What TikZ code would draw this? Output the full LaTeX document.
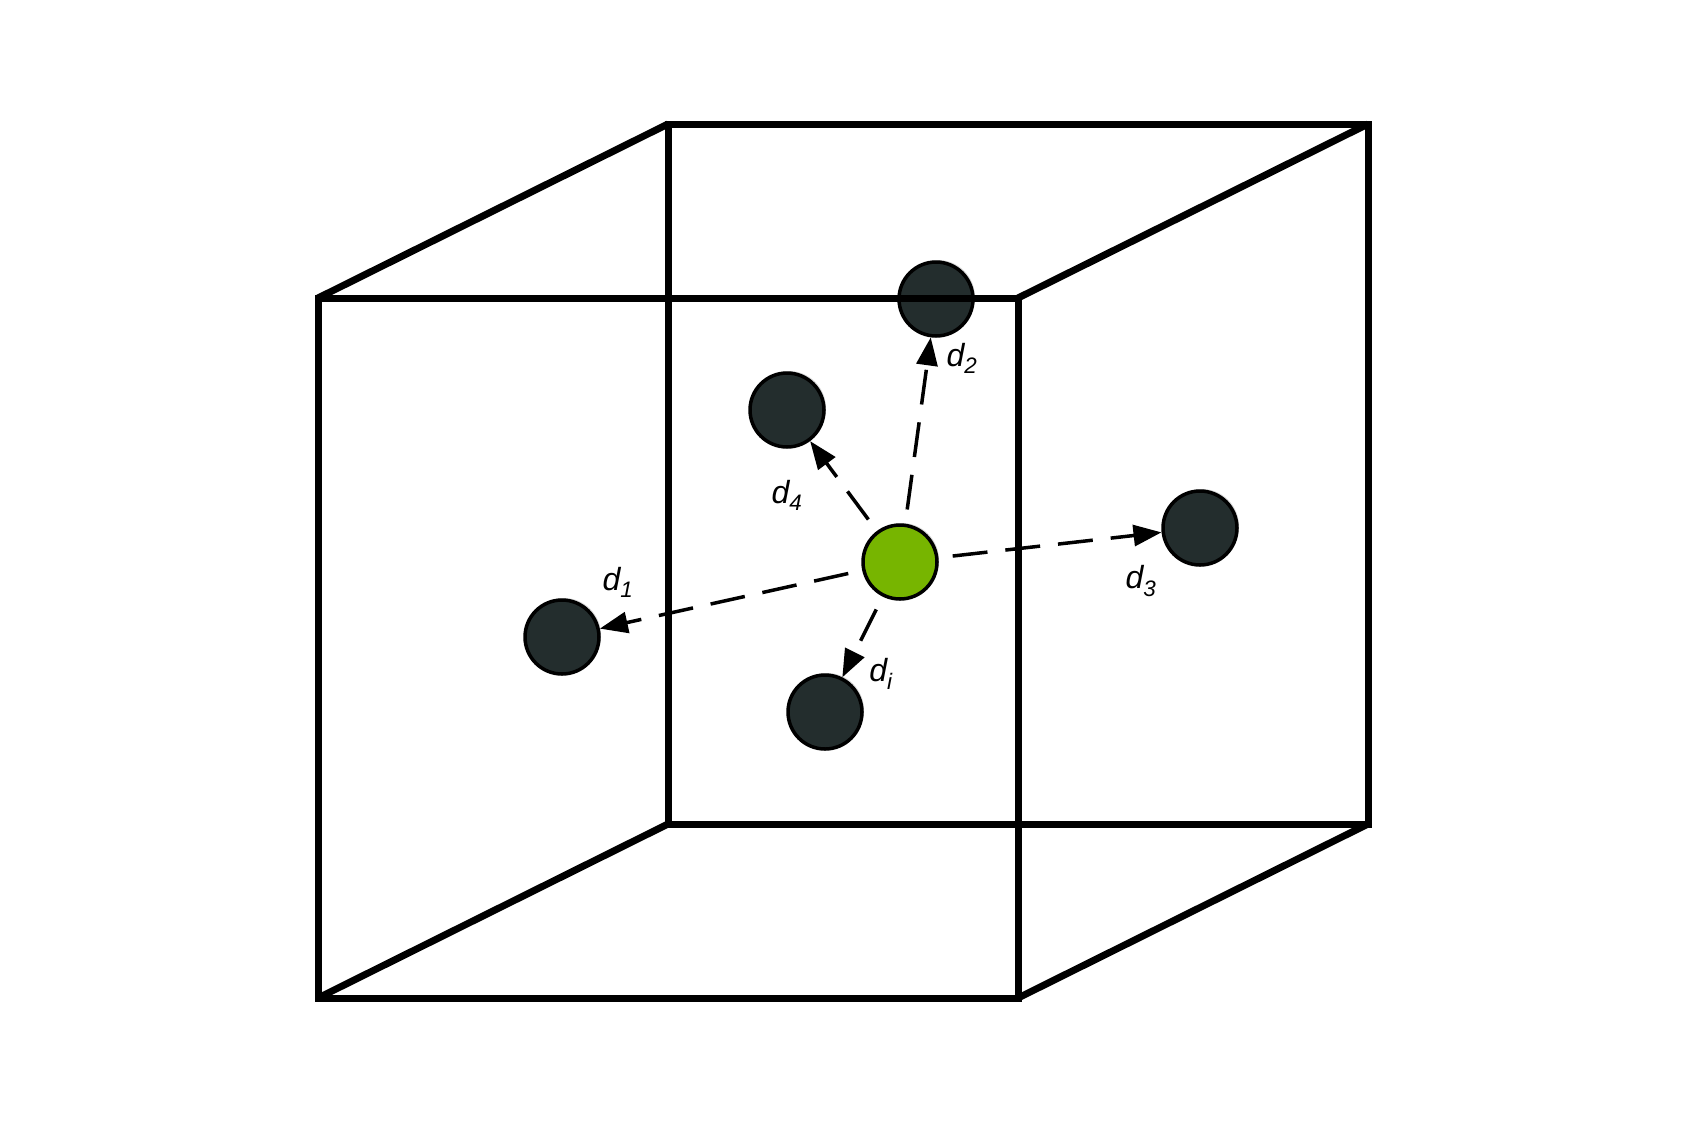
\documentclass[tikz,border=0pt]{standalone}
\usepackage{fontspec}
\newfontfamily\labfont{Liberation Sans}
\usetikzlibrary{arrows.meta,shadows,backgrounds}
\definecolor{atomdark}{HTML}{232D2D}
\definecolor{atomgreen}{HTML}{77B500}
\newcommand{\dsub}[1]{\textit{d\textsubscript{#1}}}
\begin{document}
\begin{tikzpicture}[x=1pt,y=-1pt,
  atom/.style={circle,draw=black,line width=3.5pt,inner sep=0pt,minimum size=74pt,
    fill=atomdark,drop shadow={shadow xshift=2pt,shadow yshift=2pt,opacity=0.3,fill=gray}},
  centre/.style={atom,fill=atomgreen},
  dist/.style={line width=3.5pt,dash pattern=on 35pt off 18pt,
    -{Triangle[length=28pt,width=21pt]}},
  dlabel/.style={font=\labfont\fontsize{32}{36}\selectfont,inner sep=0pt},
  edge/.style={line width=7pt}]
\useasboundingbox (0,0) rectangle (1688,1125);
% atoms
\node[atom] (n1) at (562,637) {};
\node[atom] (n2) at (936,299) {};
\node[atom] (n3) at (1200,528) {};
\node[atom] (n4) at (787,410) {};
\node[atom] (ni) at (825,712) {};
\node[centre] (ctr) at (900,562) {};
% distances
\begin{pgfonlayer}{background}
\draw[dist] (ctr.center) -- (n1);
\draw[dist] (ctr.center) -- (n2);
\draw[dist] (ctr.center) -- (n3);
\draw[dist] (ctr.center) -- (n4);
\draw[dist] (ctr.center) -- (ni);
\end{pgfonlayer}
\node[dlabel] (l1) at (618,582) {\dsub{1}};
\node[dlabel] (l2) at (962,358) {\dsub{2}};
\node[dlabel] (l3) at (1141,581) {\dsub{3}};
\node[dlabel] (l4) at (787,495) {\dsub{4}};
\node[dlabel] (li) at (881,674) {\dsub{i}};
% cube
\draw[edge] (318,298) rectangle (1018,998);
\draw[edge] (668,124) rectangle (1368,824);
\draw[edge] (318,298) -- (668,124);
\draw[edge] (1018,298) -- (1368,124);
\draw[edge] (318,998) -- (668,824);
\draw[edge] (1018,998) -- (1368,824);
\end{tikzpicture}
\end{document}
